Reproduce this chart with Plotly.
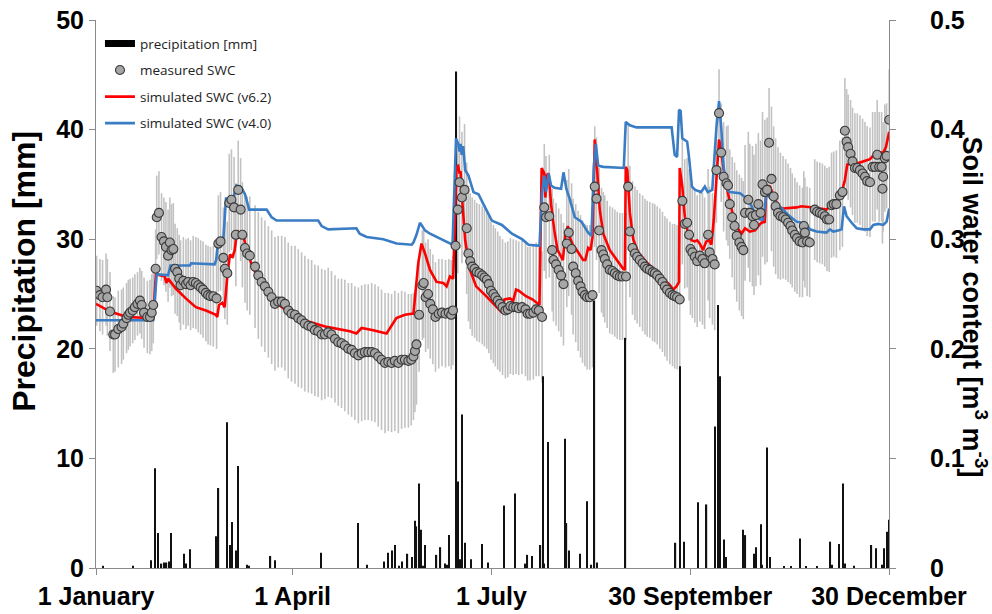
import plotly.graph_objects as go

# ---------------- data (day of year, 0 = 1 January) ----------------
TICK_DAYS = [0, 90, 181, 272, 363]
TICK_LABELS = ["1 January", "1 April", "1 July", "30 September", "30 December"]

PRECIP_DAY = [3.4, 17.0, 25.2, 27.0, 28.2, 30.0, 31.1, 32.3, 33.3, 34.3, 40.3, 41.2, 43.0,
              55.0, 56.1, 60.1, 61.3, 62.2, 64.0, 65.1, 69.3, 70.2, 79.9, 82.1, 103.0,
              120.1, 123.9, 131.8, 133.8, 135.7, 136.8, 138.6, 139.9, 142.6, 144.6, 146.0,
              146.7, 147.8, 148.6, 149.8, 150.8, 155.9, 157.7, 159.7, 160.6, 161.7, 165.0,
              165.8, 166.8, 167.6, 168.8, 171.8, 176.6, 179.6, 186.7, 191.8, 196.6, 197.5,
              199.7, 203.5, 204.5, 205.2, 207.1, 214.6, 215.4, 216.6, 221.6, 224.6, 226.8,
              228.2, 229.2, 242.4, 265.3, 267.3, 269.3, 275.4, 279.5, 283.3, 284.8, 285.6,
              287.4, 288.3, 296.3, 297.3, 301.3, 302.2, 304.3, 305.0, 307.2, 308.5, 315.0,
              318.0, 322.2, 325.0, 330.0, 336.2, 336.8, 340.0, 342.0, 342.8, 347.0, 355.0,
              357.0, 360.0, 360.8, 361.9, 362.9]
PRECIP_MM = [0.2, 0.2, 0.7, 9.1, 3.2, 0.4, 0.5, 0.5, 0.6, 3.2, 1.3, 0.4, 1.7,
             2.9, 7.3, 13.3, 2.1, 4.2, 1.6, 9.3, 0.3, 0.2, 1.1, 0.7, 1.4,
             4.1, 0.3, 0.6, 1.4, 1.6, 2.1, 0.2, 0.6, 1.3, 1.0, 4.3,
             3.8, 7.7, 3.5, 0.2, 2.1, 1.2, 1.9, 0.4, 0.3, 3.0, 45.3,
             7.9, 0.8, 14.0, 2.3, 0.8, 2.2, 0.5, 5.7, 6.8, 0.4, 1.2,
             1.1, 2.1, 17.5, 0.4, 11.5, 11.8, 4.1, 1.6, 1.3, 6.1, 0.3,
             24.4, 0.5, 21.0, 2.3, 18.4, 2.4, 6.0, 5.8, 12.9, 24.0, 17.5,
             2.6, 1.0, 3.5, 3.0, 1.3, 1.9, 4.0, 0.3, 11.0, 1.0, 0.1,
             0.1, 2.7, 0.1, 0.1, 2.4, 0.3, 2.2, 7.7, 0.4, 0.2, 2.1,
             1.8, 0.3, 1.8, 3.3, 4.4]

MEAS_DAY = [
    0.3, 1.8, 3.0, 4.6, 5.2, 6.4, 7.9, 8.7, 10.2, 11.7, 12.5, 14.0, 14.8, 15.6, 16.8, 17.8, 19.0, 20.1, 20.9, 22.0, 23.5, 24.7, 25.5, 26.2,
    27.3, 27.8, 28.8, 30.0, 31.1, 32.0, 33.0, 33.8, 34.6, 35.4, 36.2, 37.2, 38.1, 38.7, 40.0, 41.2, 42.2, 43.3, 44.5, 45.7, 46.8, 47.9, 49.0, 50.3, 51.3, 52.4, 53.7, 55.2,
    56.0, 57.0, 58.3, 59.0, 60.1, 61.0, 62.0, 63.2, 64.0, 65.1, 66.2, 67.0, 68.2, 69.2, 70.4,
    72.8, 74.3, 75.8, 77.3, 78.9, 80.4, 81.9, 83.4, 85.0, 86.5, 88.0, 89.5, 91.1, 92.6, 94.1, 95.6, 97.2, 98.7, 100.2, 101.7, 103.3, 104.8, 106.3, 107.8,
    109.4, 110.9, 112.4, 113.9, 115.5, 117.0, 118.5, 120.1, 121.6, 123.1, 124.6, 126.2, 127.7, 129.2, 130.7, 132.3, 133.8, 135.3, 136.8, 138.4, 139.9, 141.4, 143.0, 144.3,
    145.3, 146.0, 146.7, 147.9, 149.4, 150.0, 150.9, 152.0, 153.0, 154.2, 155.4, 156.9, 158.4, 160.0, 161.5, 162.6, 163.4,
    164.6, 165.6, 166.4, 167.5, 168.7, 169.7, 170.5, 171.3, 172.2, 173.3, 174.3, 175.5, 176.8, 177.8, 178.9, 179.8, 180.8, 181.9, 182.8, 183.9, 184.9, 186.1, 187.4, 188.5,
    189.7, 191.0, 192.3, 193.5, 195.0, 196.6, 197.6, 198.7, 200.2, 201.5, 202.7, 204.2,
    205.2, 206.0, 207.5, 208.8, 209.4, 210.6, 211.8, 212.9, 214.0, 215.5, 216.4,
    217.7, 218.4, 219.6, 220.7, 221.8, 222.7, 223.8, 224.8, 226.0, 227.3,
    228.3, 229.1, 230.3, 231.4, 232.2, 232.9, 234.0, 235.2, 236.4, 237.5, 238.6, 239.8, 241.0, 242.6,
    243.6, 244.4, 245.6, 246.7, 247.7, 248.9, 250.2, 251.3, 252.3, 253.5, 254.8, 255.8, 256.9, 258.1, 259.3, 260.4, 261.4, 262.7, 263.9, 264.9, 266.0, 267.2,
    268.4, 269.5, 270.6, 271.5, 272.1, 273.0, 274.1, 275.2, 276.4, 277.6, 278.6, 280.2, 280.9, 282.2, 283.2,
    284.0, 285.2, 286.2, 287.3, 288.6, 289.3,
    290.1, 291.2, 292.3, 293.3, 294.5, 295.5, 296.3, 297.1, 298.6, 299.3,
    300.5, 301.2, 302.1, 303.2, 304.2, 305.1, 306.2, 307.2, 308.1, 309.2,
    310.2, 311.1, 312.2, 313.3, 314.5, 315.7, 316.8, 317.9, 318.7, 319.9,
    320.9, 322.1, 323.4, 324.0, 324.5, 325.5, 326.7, 329.0, 330.1, 331.3,
    332.5, 333.6, 334.6, 335.6, 336.7, 337.7, 338.9, 340.5, 341.7, 342.8,
    343.6, 344.3, 345.4, 346.3, 347.4, 348.5, 349.7, 350.9, 352.0, 353.0,
    354.3, 355.5, 356.6, 357.6, 358.5, 359.6, 360.0, 360.3, 361.1, 361.9,
    363.1]
MEAS_SWC = [
    0.253, 0.249, 0.247, 0.254, 0.247, 0.234, 0.213, 0.213, 0.218, 0.220, 0.223, 0.228, 0.231, 0.233, 0.235, 0.238, 0.241, 0.244, 0.240, 0.233, 0.229, 0.229, 0.233, 0.240,
    0.273, 0.320, 0.324, 0.302, 0.298, 0.293, 0.285, 0.297, 0.290, 0.291, 0.273, 0.270, 0.264, 0.258, 0.262, 0.259, 0.261, 0.258, 0.261, 0.260, 0.258, 0.256, 0.254, 0.251, 0.249, 0.248, 0.248, 0.246,
    0.296, 0.298, 0.283, 0.273, 0.269, 0.333, 0.336, 0.329, 0.304, 0.345, 0.327, 0.304, 0.292, 0.287, 0.285,
    0.275, 0.267, 0.261, 0.257, 0.252, 0.247, 0.241, 0.243, 0.243, 0.241, 0.235, 0.232, 0.231, 0.228, 0.226, 0.223, 0.221, 0.220, 0.217, 0.216, 0.213, 0.213, 0.215, 0.213,
    0.209, 0.206, 0.205, 0.203, 0.200, 0.199, 0.196, 0.194, 0.196, 0.197, 0.197, 0.197, 0.196, 0.193, 0.190, 0.187, 0.188, 0.187, 0.189, 0.187, 0.190, 0.190, 0.189, 0.190,
    0.193, 0.198, 0.204, 0.231, 0.258, 0.260, 0.247, 0.250, 0.241, 0.236, 0.229, 0.232, 0.233, 0.232, 0.233, 0.231, 0.235,
    0.294, 0.327, 0.352, 0.338, 0.345, 0.310, 0.287, 0.280, 0.275, 0.273, 0.270, 0.269, 0.267, 0.265, 0.263, 0.259, 0.253, 0.250, 0.247, 0.244, 0.241, 0.238, 0.235, 0.236,
    0.239, 0.238, 0.238, 0.237, 0.238, 0.236, 0.232, 0.232, 0.233, 0.236, 0.235, 0.229,
    0.329, 0.320, 0.321, 0.290, 0.281, 0.277, 0.272, 0.267, 0.259, 0.296, 0.306,
    0.291, 0.275, 0.269, 0.262, 0.257, 0.252, 0.249, 0.247, 0.247, 0.249,
    0.348, 0.337, 0.308, 0.290, 0.286, 0.282, 0.277, 0.272, 0.271, 0.269, 0.267, 0.266, 0.266, 0.266,
    0.348, 0.307, 0.292, 0.287, 0.284, 0.281, 0.278, 0.275, 0.273, 0.272, 0.270, 0.269, 0.267, 0.264, 0.261, 0.257, 0.254, 0.251, 0.249, 0.248, 0.247, 0.245,
    0.335, 0.314, 0.315, 0.304, 0.291, 0.288, 0.284, 0.280, 0.285, 0.282, 0.278, 0.304, 0.288, 0.282, 0.277,
    0.363, 0.415, 0.379, 0.357, 0.351, 0.349,
    0.332, 0.320, 0.312, 0.303, 0.297, 0.293, 0.290, 0.324, 0.336, 0.324,
    0.321, 0.313, 0.322, 0.332, 0.324, 0.350, 0.343, 0.345, 0.388, 0.355,
    0.339, 0.330, 0.324, 0.321, 0.320, 0.318, 0.315, 0.312, 0.308, 0.304,
    0.301, 0.298, 0.297, 0.312, 0.306, 0.298, 0.297, 0.327, 0.325, 0.324,
    0.323, 0.321, 0.318, 0.318, 0.331, 0.332, 0.332, 0.340, 0.343, 0.399,
    0.389, 0.384, 0.378, 0.371, 0.365, 0.365, 0.363, 0.360, 0.357, 0.353,
    0.352, 0.366, 0.366, 0.377, 0.366, 0.366, 0.346, 0.357, 0.374, 0.376,
    0.409]
MEAS_ERR = [
    0.032, 0.033, 0.034, 0.033, 0.035, 0.036, 0.035, 0.034, 0.035, 0.034, 0.033, 0.032, 0.032, 0.031, 0.030, 0.030, 0.029, 0.030, 0.031, 0.032, 0.033, 0.034, 0.035, 0.035,
    0.036, 0.038, 0.038, 0.040, 0.040, 0.041, 0.042, 0.041, 0.042, 0.042, 0.041, 0.040, 0.040, 0.041, 0.040, 0.041, 0.040, 0.041, 0.042, 0.042, 0.043, 0.043, 0.044, 0.044, 0.045, 0.045, 0.046, 0.046,
    0.044, 0.045, 0.046, 0.046, 0.047, 0.045, 0.046, 0.046, 0.047, 0.045, 0.047, 0.048, 0.050, 0.052, 0.054,
    0.056, 0.058, 0.059, 0.060, 0.060, 0.061, 0.061, 0.060, 0.060, 0.061, 0.062, 0.062, 0.063, 0.063, 0.062, 0.062, 0.061, 0.061, 0.060, 0.060, 0.060, 0.059, 0.059, 0.058,
    0.058, 0.058, 0.059, 0.060, 0.060, 0.061, 0.061, 0.062, 0.062, 0.062, 0.062, 0.063, 0.063, 0.064, 0.064, 0.064, 0.063, 0.063, 0.064, 0.064, 0.063, 0.062, 0.061, 0.060,
    0.058, 0.056, 0.055, 0.052, 0.050, 0.050, 0.050, 0.050, 0.050, 0.050, 0.050, 0.050, 0.049, 0.049, 0.049, 0.050, 0.050,
    0.055, 0.058, 0.060, 0.060, 0.060, 0.060, 0.062, 0.062, 0.063, 0.063, 0.063, 0.063, 0.063, 0.063, 0.063, 0.063, 0.063, 0.063, 0.063, 0.063, 0.062, 0.062, 0.062, 0.062,
    0.062, 0.062, 0.061, 0.061, 0.061, 0.061, 0.061, 0.061, 0.061, 0.061, 0.060, 0.060,
    0.058, 0.056, 0.056, 0.056, 0.056, 0.056, 0.056, 0.056, 0.056, 0.058, 0.058,
    0.060, 0.062, 0.063, 0.064, 0.065, 0.065, 0.065, 0.066, 0.066, 0.066,
    0.055, 0.056, 0.057, 0.057, 0.057, 0.058, 0.058, 0.058, 0.058, 0.058, 0.058, 0.058, 0.058, 0.058,
    0.058, 0.060, 0.061, 0.061, 0.061, 0.061, 0.062, 0.062, 0.062, 0.062, 0.063, 0.063, 0.063, 0.064, 0.064, 0.064, 0.065, 0.065, 0.065, 0.066, 0.066, 0.066,
    0.058, 0.059, 0.059, 0.060, 0.060, 0.060, 0.060, 0.060, 0.060, 0.060, 0.060, 0.060, 0.060, 0.060, 0.060,
    0.048, 0.040, 0.045, 0.050, 0.052, 0.055,
    0.050, 0.055, 0.058, 0.060, 0.062, 0.063, 0.063, 0.062, 0.062, 0.063,
    0.064, 0.064, 0.065, 0.065, 0.066, 0.066, 0.066, 0.066, 0.050, 0.066,
    0.064, 0.062, 0.060, 0.058, 0.056, 0.055, 0.054, 0.053, 0.052, 0.052,
    0.051, 0.051, 0.050, 0.050, 0.050, 0.050, 0.050, 0.046, 0.046, 0.046,
    0.046, 0.046, 0.047, 0.048, 0.048, 0.048, 0.049, 0.050, 0.050, 0.048,
    0.048, 0.048, 0.049, 0.049, 0.050, 0.050, 0.050, 0.050, 0.050, 0.050,
    0.050, 0.050, 0.050, 0.050, 0.050, 0.050, 0.050, 0.050, 0.049, 0.048,
    0.046]

V62_DAY = [0, 6.4, 11, 14, 26.2, 27.4, 31.5, 32.2, 33, 36.5, 41.1, 45.7, 50.3, 54.9, 55.5, 56.3, 57.8, 58.9,
           60.1, 61.3, 62.5, 63.5, 64.6, 65.9, 67.4, 68.9, 72, 76.6, 81.2, 85.7, 91.8, 97.2, 105.6,
           116.2, 119.2, 121.6, 126.9, 133, 137.5, 141.4, 144.5, 145.3, 146, 147.5, 149, 150.6, 152.9,
           155.9, 159, 160.5, 162, 163.5, 165, 165.8, 166.4, 166.9, 167.4, 169, 171.2, 174, 178.6,
           183.1, 185.4, 187, 189.5, 191, 192.3, 193.5, 196.8, 199.9, 203, 204, 205.2, 205.7, 206.3,
           207.2, 208.3, 209.8, 211.3, 212.9, 213.7, 214.9, 216, 216.8, 218.3, 220.7, 223, 224, 225.3,
           226.4, 227.3, 228.3, 229.1, 230.6, 232.2, 235.2, 238.3, 241.3, 242.1, 242.5, 243.2, 244.4,
           245.9, 248.2, 252, 256.6, 261.2, 262.7, 264.2, 265.7, 266.9, 267.2, 268.4, 269.5, 271,
           272.6, 274.1, 275.2, 276.4, 277.9, 278.6, 279.4, 280.6, 281.7, 282.8, 284, 285.2, 286.2,
           287.3, 289.3, 290.8, 291.7, 293.3, 295.5, 297.1, 299.3, 301.7, 304, 305.4, 306.1, 306.9,
           308.5, 309.7, 311.6, 313, 314.5, 320.7, 322.9, 328.3, 334.4, 335.9, 338.2, 339.7, 341.3,
           342.8, 343.9, 345.9, 348.2, 351.2, 354.3, 356.1, 358.1, 360.4, 361.6, 363.1]
V62_SWC = [0.241, 0.234, 0.231, 0.229, 0.228, 0.268, 0.266, 0.260, 0.264, 0.255, 0.246, 0.238, 0.235, 0.231, 0.229, 0.240, 0.242, 0.238,
           0.266, 0.286, 0.284, 0.290, 0.308, 0.304, 0.304, 0.290, 0.273, 0.257, 0.244, 0.237, 0.229, 0.225, 0.220,
           0.216, 0.214, 0.219, 0.217, 0.214, 0.228, 0.231, 0.232, 0.232, 0.246, 0.278, 0.296, 0.287, 0.272,
           0.261, 0.260, 0.257, 0.266, 0.264, 0.366, 0.367, 0.360, 0.362, 0.342, 0.299, 0.272, 0.257, 0.248,
           0.239, 0.234, 0.245, 0.246, 0.244, 0.254, 0.253, 0.248, 0.245, 0.240, 0.365, 0.360, 0.338, 0.358,
           0.360, 0.332, 0.308, 0.290, 0.284, 0.281, 0.305, 0.312, 0.302, 0.295, 0.288, 0.281, 0.281, 0.292,
           0.290, 0.302, 0.391, 0.372, 0.327, 0.305, 0.290, 0.281, 0.273, 0.272, 0.366, 0.363, 0.324,
           0.300, 0.288, 0.279, 0.270, 0.261, 0.258, 0.254, 0.257, 0.261, 0.365, 0.348, 0.321, 0.305,
           0.299, 0.298, 0.299, 0.296, 0.290, 0.294, 0.298, 0.299, 0.295, 0.318, 0.357, 0.391, 0.381,
           0.363, 0.342, 0.330, 0.321, 0.311, 0.305, 0.310, 0.307, 0.308, 0.314, 0.316, 0.315, 0.349,
           0.348, 0.342, 0.333, 0.329, 0.328, 0.329, 0.330, 0.329, 0.327, 0.330, 0.334, 0.337, 0.342,
           0.354, 0.368, 0.369, 0.369, 0.371, 0.373, 0.377, 0.379, 0.379, 0.384, 0.398]

V40_DAY = [0, 26.2, 27.8, 33, 34.1, 43, 43.5, 54.3, 55, 56, 58.3, 59.5, 62.8, 64.3, 66.6, 68.2, 70.1, 78.1,
           80.4, 82.7, 101.7, 103.3, 106.3, 119.2, 120.7, 123.9, 131.5, 137.6, 144.5, 145.3, 146.7,
           148.3, 149, 150.6, 152.9, 159, 163.2, 164.8, 165.8, 166.4, 166.9, 167.4, 168.1, 169, 170.5,
           172.8, 175.1, 178.1, 181.2, 185.8, 190.4, 195, 198, 203, 204.2, 205.2, 206, 207.2, 208.3,
           209.8, 212.9, 214, 215.3, 216.8, 219.2, 222.2, 225.3, 226.8, 227.9, 228.8, 229.9, 232.2,
           241.6, 242.5, 244.4, 247.4, 263.5, 264.9, 266, 266.9, 267.6, 268.4, 270.6, 271.5, 272.8,
           274.3, 277, 278.7, 280, 282.1, 284, 285.2, 286.2, 287.3, 288.6, 290.1, 294.8, 298.6, 300.9,
           302.4, 304, 305.4, 307, 308.5, 310.1, 312.3, 314.6, 316.9, 320.7, 323, 325.2, 326.8, 329.8,
           334.4, 335.9, 337.5, 339.7, 341.3, 342.4, 343.6, 345.9, 348.2, 351.2, 354.3, 355.8, 358.1,
           360.4, 361.9, 363.1]
V40_SWC = [0.226, 0.226, 0.268, 0.267, 0.276, 0.276, 0.278, 0.277, 0.281, 0.299, 0.300, 0.337, 0.337, 0.349, 0.347, 0.341, 0.327, 0.327,
           0.320, 0.317, 0.317, 0.312, 0.309, 0.310, 0.305, 0.302, 0.300, 0.296, 0.295, 0.297, 0.304,
           0.315, 0.313, 0.308, 0.305, 0.299, 0.295, 0.392, 0.387, 0.380, 0.387, 0.377, 0.385, 0.363, 0.358,
           0.343, 0.341, 0.329, 0.317, 0.313, 0.305, 0.300, 0.295, 0.294, 0.343, 0.358, 0.343, 0.360, 0.349,
           0.347, 0.346, 0.361, 0.346, 0.337, 0.320, 0.316, 0.306, 0.303, 0.366, 0.387, 0.367, 0.366,
           0.365, 0.407, 0.404, 0.402, 0.402, 0.377, 0.375, 0.418, 0.417, 0.392, 0.389, 0.374, 0.348,
           0.345, 0.343, 0.348, 0.343, 0.345, 0.402, 0.426, 0.402, 0.366, 0.346, 0.343, 0.342, 0.336, 0.327,
           0.321, 0.318, 0.318, 0.342, 0.338, 0.336, 0.331, 0.327, 0.322, 0.316, 0.315, 0.313, 0.309, 0.307,
           0.306, 0.309, 0.307, 0.308, 0.309, 0.330, 0.321, 0.315, 0.310, 0.309, 0.309, 0.313, 0.314,
           0.313, 0.316, 0.328]

assert len(MEAS_DAY) == len(MEAS_SWC) == len(MEAS_ERR)
assert len(PRECIP_DAY) == len(PRECIP_MM)
assert len(V62_DAY) == len(V62_SWC)
assert len(V40_DAY) == len(V40_SWC)

# ---------------- figure ----------------
AXIS_GREY = "#8a8a8a"
BOLD_FAMILY = "Liberation Sans, Arial, sans-serif"
TICK_FONT = dict(family=BOLD_FAMILY, size=25, color="black", weight="bold")
LEG_FONT = dict(family="Open Sans, sans-serif", size=13.5, color="#222")

fig = go.Figure()

# error bars of the measurements (bottom layer)
fig.add_trace(go.Scatter(
    x=MEAS_DAY, y=MEAS_SWC, mode="markers", yaxis="y",
    marker=dict(size=2, opacity=0),
    error_y=dict(type="data", array=MEAS_ERR, visible=True, color="#c2c2c2", thickness=1.6, width=0),
    showlegend=False, hoverinfo="skip"))

# precipitation bars
fig.add_trace(go.Bar(
    x=PRECIP_DAY, y=PRECIP_MM, yaxis="y2", width=0.55,
    marker=dict(color="#111111", line=dict(width=0)),
    showlegend=False, hoverinfo="x+y"))
# legend entry for precipitation (black rectangle)
fig.add_trace(go.Scatter(
    x=[None], y=[None], mode="lines", yaxis="y2",
    line=dict(color="black", width=7),
    name="precipitation [mm]", legendrank=1, legendgroup="a"))

# simulated lines
fig.add_trace(go.Scatter(
    x=V62_DAY, y=V62_SWC, mode="lines", yaxis="y3",
    line=dict(color="#ff0000", width=2.6),
    name="simulated SWC (v6.2)", legendrank=3, legendgroup="c"))
fig.add_trace(go.Scatter(
    x=V40_DAY, y=V40_SWC, mode="lines", yaxis="y3",
    line=dict(color="#3b7dc4", width=2.6),
    name="simulated SWC (v4.0)", legendrank=4, legendgroup="d"))

# measured points (top layer)
fig.add_trace(go.Scatter(
    x=MEAS_DAY, y=MEAS_SWC, mode="markers", yaxis="y3",
    marker=dict(size=9, color="#a6a6a6", line=dict(color="#3a3a3a", width=1.1)),
    name="measured SWC", legendrank=2, legendgroup="b"))

fig.update_layout(
    width=992, height=614,
    margin=dict(l=96, r=103, t=20, b=46, autoexpand=False),
    paper_bgcolor="white", plot_bgcolor="white",
    showlegend=True,
    legend=dict(x=0.005, y=0.985, xanchor="left", yanchor="top",
                bgcolor="rgba(0,0,0,0)", font=LEG_FONT, tracegroupgap=6,
                itemwidth=30),
    xaxis=dict(range=[0, 363], tickvals=TICK_DAYS, ticktext=TICK_LABELS,
               ticks="outside", ticklen=6, tickcolor=AXIS_GREY,
               showline=True, linecolor=AXIS_GREY, linewidth=1,
               showgrid=False, zeroline=False, tickfont=TICK_FONT, automargin=False),
    yaxis=dict(range=[0, 0.5], side="right",
               tickvals=[0, 0.1, 0.2, 0.3, 0.4, 0.5],
               ticktext=["0", "0.1", "0.2", "0.3", "0.4", "0.5"],
               ticks="outside", ticklen=6, tickcolor=AXIS_GREY,
               showline=True, linecolor=AXIS_GREY, linewidth=1,
               showgrid=False, zeroline=False, tickfont=TICK_FONT,
               ticklabelstandoff=29, automargin=False),
    yaxis2=dict(range=[0, 50], overlaying="y", side="left",
                tickvals=[0, 10, 20, 30, 40, 50],
                ticks="outside", ticklen=6, tickcolor=AXIS_GREY,
                showline=True, linecolor=AXIS_GREY, linewidth=1,
                showgrid=False, zeroline=False, tickfont=TICK_FONT, automargin=False),
    yaxis3=dict(range=[0, 0.5], overlaying="y", visible=False),
    annotations=[
        dict(text="Precipitation [mm]", xref="paper", yref="paper",
             x=-0.091, y=0.542, xanchor="center", yanchor="middle",
             textangle=-90, showarrow=False,
             font=dict(family=BOLD_FAMILY, size=32, color="black", weight="bold")),
        dict(text="Soil water content [m<sup>3</sup> m<sup>-3</sup>]", xref="paper", yref="paper",
             x=1.108, y=0.476, xanchor="center", yanchor="middle",
             textangle=90, showarrow=False,
             font=dict(family=BOLD_FAMILY, size=27, color="black", weight="bold")),
    ],
)

fig.write_html("out.html", config={"displayModeBar": False},
               post_script="document.body.style.margin='0';document.body.style.padding='0';")
